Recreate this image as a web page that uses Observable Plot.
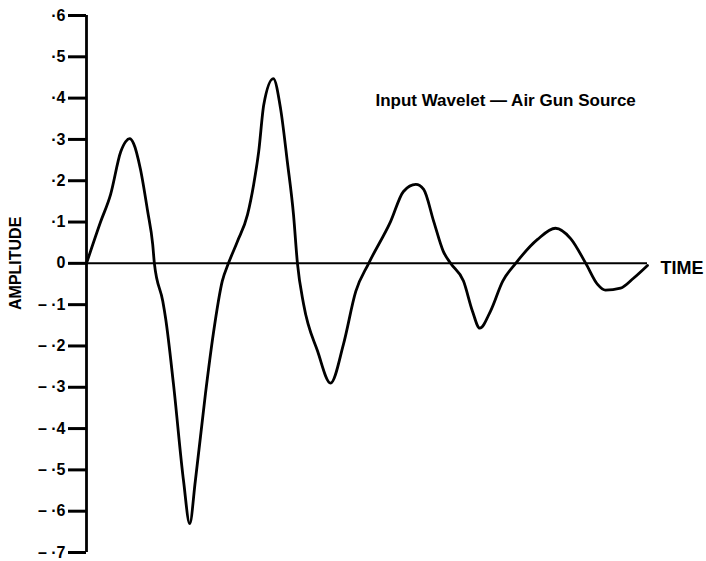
<!DOCTYPE html>
<html>
<head>
<meta charset="utf-8">
<script src="https://cdn.jsdelivr.net/npm/d3@7"></script>
<script src="https://cdn.jsdelivr.net/npm/@observablehq/plot@0.6"></script>
<style>
  html, body { margin: 0; padding: 0; background: #fff; }
  #chart svg { display: block; }
</style>
</head>
<body>
<div id="chart"></div>
<script>
// Time (arbitrary units, 0 = start, 100 = end of wavelet)
const time = [0, 2.5, 4.3, 6.1, 7.0, 7.7, 8.4, 9.6, 10.9, 11.8, 12.1, 13.6, 14.1, 15.5, 17.3, 18.4, 19.4, 21.2, 22.6, 24.2, 25.3, 26.9, 28.7, 29.8, 30.7, 31.6, 33.3, 34.6, 35.8, 36.9, 37.6, 38.7, 41.2, 43.5, 45.8, 48.0, 50.3, 54.2, 56.5, 58.7, 60.1, 61.9, 63.6, 64.9, 67.2, 68.8, 70.1, 72.0, 74.2, 76.5, 80.4, 83.6, 86.3, 89.0, 91.1, 92.5, 95.2, 97.5, 100];
// Amplitude
const amplitude = [0, 0.10, 0.167, 0.27, 0.295, 0.302, 0.29, 0.229, 0.126, 0.046, 0, -0.092, -0.133, -0.292, -0.527, -0.63, -0.527, -0.316, -0.171, -0.043, 0, 0.053, 0.118, 0.191, 0.271, 0.384, 0.447, 0.374, 0.246, 0.118, 0, -0.099, -0.213, -0.29, -0.196, -0.068, 0, 0.101, 0.174, 0.191, 0.179, 0.101, 0.029, 0, -0.043, -0.116, -0.157, -0.116, -0.043, 0, 0.058, 0.085, 0.06, 0, -0.051, -0.065, -0.06, -0.036, -0.005];

const yTicks = [0.6, 0.5, 0.4, 0.3, 0.2, 0.1, 0, -0.1, -0.2, -0.3, -0.4, -0.5, -0.6, -0.7];
const yTickLabels = ["·6", "·5", "·4", "·3", "·2", "·1", "0", "– ·1", "– ·2", "– ·3", "– ·4", "– ·5", "– ·6", "– ·7"];

const titleText = "Input Wavelet — Air Gun Source";
const titlePos = {x: 51.5, y: 0.395};
const xLabel = "TIME";
const yLabel = "AMPLITUDE";

const W = 706, H = 561, mL = 86, mR = 59, mT = 15, mB = 9;
const xDomain = [0, 100];
const tickPx = 18;
const tickUnits = tickPx * (xDomain[1] - xDomain[0]) / (W - mL - mR);

const data = time.map((t, i) => ({t, a: amplitude[i]}));
const ticks = yTicks.map((v, i) => ({v, label: yTickLabels[i]}));

const chart = Plot.plot({
  width: W,
  height: H,
  marginTop: mT,
  marginBottom: mB,
  marginLeft: mL,
  marginRight: mR,
  style: {fontFamily: "'Liberation Sans', Arial, Helvetica, sans-serif", color: "#000", background: "#fff"},
  x: {domain: xDomain, axis: null},
  y: {domain: [-0.7, 0.6], axis: null},
  marks: [
    Plot.ruleY(ticks, {y: "v", x1: -tickUnits, x2: 0, stroke: "#000", strokeWidth: 3}),
    Plot.text(ticks, {y: "v", text: "label", frameAnchor: "left", dx: -(tickPx + 3), textAnchor: "end", lineAnchor: "middle", fontSize: 16, fontWeight: "bold", fill: "#000"}),
    Plot.ruleX([0], {y1: -0.7, y2: 0.6, stroke: "#000", strokeWidth: 2.8}),
    Plot.ruleY([0], {x1: 0, x2: 100, stroke: "#000", strokeWidth: 2}),
    Plot.line(data, {x: "t", y: "a", curve: "monotone-x", stroke: "#000", strokeWidth: 2.8, strokeLinejoin: "round"}),
    Plot.text([xLabel], {x: 100, y: 0, dx: 13, dy: 5, textAnchor: "start", fontSize: 18, fontWeight: "bold", fill: "#000"}),
    Plot.text([yLabel], {y: 0, frameAnchor: "left", rotate: -90, dx: -71, textAnchor: "middle", lineAnchor: "middle", fontSize: 16, fontWeight: "bold", fill: "#000"}),
    Plot.text([titleText], {x: titlePos.x, y: titlePos.y, textAnchor: "start", fontSize: 17, fontWeight: "bold", fill: "#000"})
  ]
});
document.getElementById("chart").appendChild(chart);
</script>
</body>
</html>
